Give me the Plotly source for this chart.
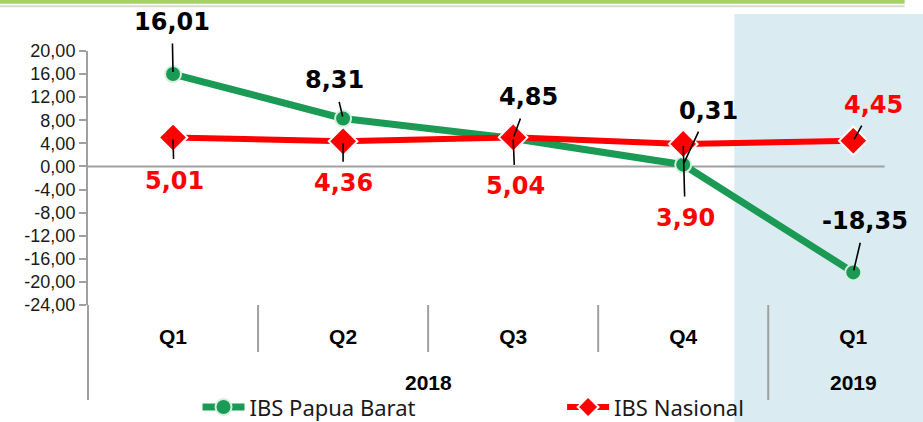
import plotly.graph_objects as go

quarters = ["Q1", "Q2", "Q3", "Q4", "Q1"]
years = ["2018", "2018", "2018", "2018", "2019"]
papua_barat = [16.01, 8.31, 4.85, 0.31, -18.35]
nasional = [5.01, 4.36, 5.04, 3.90, 4.45]
y_ticks = [20, 16, 12, 8, 4, 0, -4, -8, -12, -16, -20, -24]

# label offsets (px) from each point: (ax, ay)
papua_offsets = [(-1, -52), (-9, -38), (15, -41), (25, -54), (12, -51)]
nasional_offsets = [(1, 43), (0, 42), (2, 49), (2, 74), (20, -36)]

GREEN = "#1A9A55"
RED = "#FF0000"
GREY = "#A0A0A0"
AXIS_FONT = "Liberation Sans, Arial"


def fmt(v):
    return f"{v:.2f}".replace(".", ",")


x = list(range(len(quarters)))

fig = go.Figure()

fig.add_trace(go.Scatter(x=x, y=papua_barat, name="IBS Papua Barat",
                         mode="lines+markers",
                         line=dict(color=GREEN, width=7),
                         marker=dict(symbol="circle", size=16, color=GREEN,
                                     line=dict(color="#D5F0DE", width=2)),
                         legend="legend", showlegend=True))
fig.add_trace(go.Scatter(x=x, y=nasional, name="IBS Nasional",
                         mode="lines+markers",
                         line=dict(color=RED, width=6),
                         marker=dict(symbol="diamond", size=22, color=RED,
                                     line=dict(color="white", width=2)),
                         legend="legend2", showlegend=True))

annotations = []
for xi, v, (ax, ay) in zip(x, papua_barat, papua_offsets):
    annotations.append(dict(x=xi, y=v, text=fmt(v), showarrow=True, arrowhead=0,
                            arrowwidth=1.6, arrowcolor="black", ax=ax, ay=ay,
                            standoff=2, startstandoff=6,
                            font=dict(family="DejaVu Sans", size=24, color="black",
                                      weight="bold")))
for xi, v, (ax, ay) in zip(x, nasional, nasional_offsets):
    annotations.append(dict(x=xi, y=v, text=fmt(v), showarrow=True, arrowhead=0,
                            arrowwidth=1.6, arrowcolor="black", ax=ax, ay=ay,
                            standoff=2, startstandoff=6,
                            font=dict(family="DejaVu Sans", size=24, color=RED,
                                      weight="bold")))

# year labels under the quarter labels
for yr in dict.fromkeys(years):
    idx = [i for i, y in enumerate(years) if y == yr]
    annotations.append(dict(x=sum(idx) / len(idx), y=-0.306, xref="x", yref="paper",
                            text=yr, showarrow=False, yanchor="middle",
                            font=dict(family=AXIS_FONT, size=21, color="black",
                                      weight="bold")))

shapes = [
    # shaded 2019 panel
    dict(type="rect", xref="paper", yref="paper", x0=0.774, x1=1.05, y0=-0.47, y1=1.146,
         fillcolor="#DAEBF2", line=dict(width=0), layer="below"),
    # top green frame
    dict(type="rect", xref="paper", yref="paper", x0=-0.2, x1=0.978, y0=1.186, y1=1.3,
         fillcolor="#A6D06A", line=dict(width=0), layer="below"),
    dict(type="line", xref="paper", yref="paper", x0=-0.2, x1=0.978, y0=1.176, y1=1.176,
         line=dict(color="#D8D8D8", width=2), layer="below"),
    # zero line
    dict(type="line", xref="paper", yref="y", x0=0, x1=0.954, y0=0, y1=0,
         line=dict(color=GREY, width=2), layer="below"),
    # extended y axis line through category area
    dict(type="line", xref="paper", yref="paper", x0=0, x1=0, y0=0, y1=-0.374,
         line=dict(color=GREY, width=2)),
]
# dividers between quarters
for i in range(len(quarters) - 1):
    long = years[i] != years[i + 1]
    shapes.append(dict(type="line", xref="x", yref="paper", x0=i + 0.5, x1=i + 0.5,
                       y0=0, y1=-0.374 if long else -0.185,
                       line=dict(color=GREY, width=2)))

legend_style = dict(orientation="h", xanchor="left", yanchor="middle",
                    xref="container", yref="container", y=0.035, itemwidth=42,
                    font=dict(family="Noto Sans", size=22, color="#1a1a1a"),
                    bgcolor="rgba(0,0,0,0)", borderwidth=0)

fig.update_layout(
    width=923, height=422,
    margin=dict(l=88, r=0, t=51, b=117),
    paper_bgcolor="white", plot_bgcolor="rgba(0,0,0,0)",
    showlegend=True,
    annotations=annotations, shapes=shapes,
    legend=dict(legend_style, x=0.214),
    legend2=dict(legend_style, x=0.609),
)
fig.update_xaxes(range=[-0.5, 4.41], tickvals=x, ticktext=quarters, showgrid=False,
                 zeroline=False, showline=False, ticks="outside", ticklen=13,
                 tickcolor="rgba(0,0,0,0)", automargin=False,
                 tickfont=dict(family=AXIS_FONT, size=21, color="black", weight="bold"))
fig.update_yaxes(range=[-24, 20], tickvals=y_ticks, ticktext=[fmt(t) for t in y_ticks],
                 showgrid=False, zeroline=False, showline=True, linecolor=GREY,
                 linewidth=2, ticks="outside", ticklen=7, tickcolor=GREY, tickwidth=2,
                 automargin=False,
                 tickfont=dict(family=AXIS_FONT, size=18, color="#1a1a1a"))

# drop the page's default body margin so the figure sits at the window corner
fig.write_html("out.html", config={"displayModeBar": False},
               post_script="document.body.style.margin='0';")
